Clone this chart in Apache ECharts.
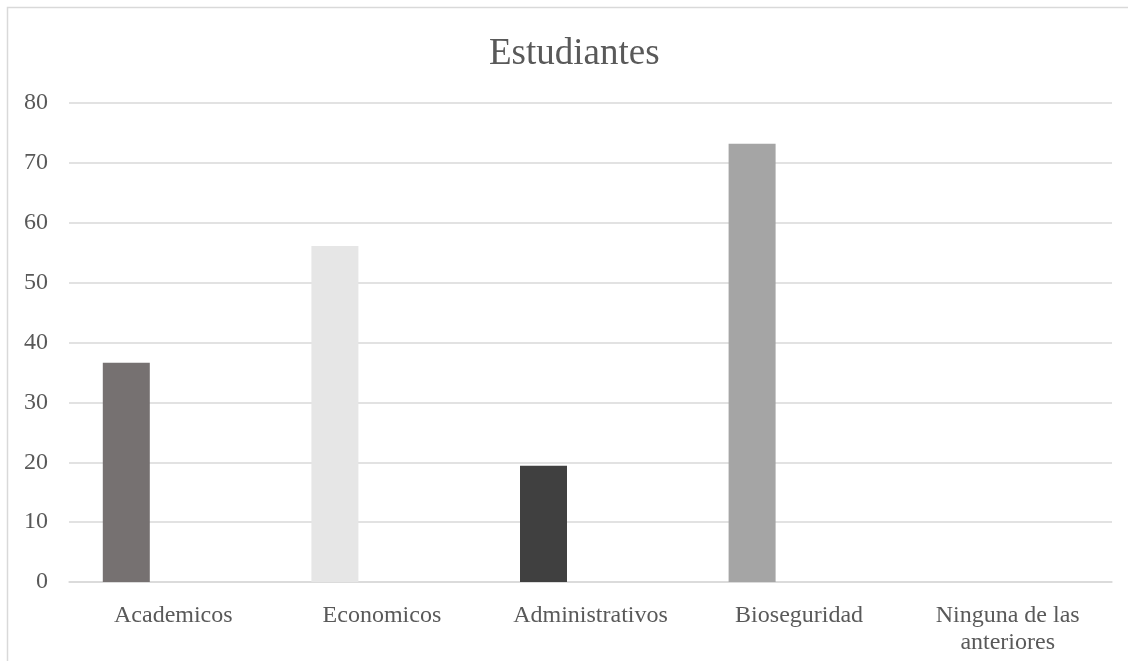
<!DOCTYPE html>
<html>
<head>
<meta charset="utf-8">
<script src="https://cdn.jsdelivr.net/npm/echarts@6/dist/echarts.min.js"></script>
<style>
html,body{margin:0;padding:0;background:#fff;}
#chart{width:1128px;height:661px;}
</style>
</head>
<body>
<div id="chart"></div>
<script>
const categories = ['Academicos', 'Economicos', 'Administrativos', 'Bioseguridad', 'Ninguna de las\nanteriores'];
const values = [36.6, 56.1, 19.4, 73.2, 0];
const barColors = ['#767171', '#e6e6e6', '#404040', '#a5a5a5', '#d0cece'];
const emptySeriesB = [null, null, null, null, null];
const emptySeriesC = [null, null, null, null, null];
const yTicks = { min: 0, max: 80, interval: 10 };

const chart = echarts.init(document.getElementById('chart'), null, { renderer: 'canvas' });
const font = '"Liberation Serif", "Times New Roman", serif';
chart.setOption({
  animation: false,
  backgroundColor: '#ffffff',
  graphic: [{
    type: 'rect',
    shape: { x: 7.5, y: 7.5, width: 1200, height: 800 },
    style: { fill: 'none', stroke: '#d9d9d9', lineWidth: 1.5 },
    silent: true, z: -1
  }],
  title: {
    text: 'Estudiantes',
    left: 484,
    top: 31,
    textStyle: { fontFamily: font, fontSize: 37, fontWeight: 'normal', color: '#595959' }
  },
  grid: { left: 69, right: 16, top: 103, bottom: 79, containLabel: false },
  xAxis: {
    type: 'category',
    data: categories,
    axisLine: { show: true, lineStyle: { color: '#d9d9d9', width: 1.5 } },
    axisTick: { show: false },
    axisLabel: { fontFamily: font, fontSize: 24, color: '#595959', margin: 20, lineHeight: 27, interval: 0 }
  },
  yAxis: {
    type: 'value',
    min: yTicks.min, max: yTicks.max, interval: yTicks.interval,
    axisLine: { show: false },
    axisTick: { show: false },
    splitLine: { lineStyle: { color: '#d9d9d9', width: 1.5 } },
    axisLabel: { fontFamily: font, fontSize: 24, color: '#595959', margin: 21 }
  },
  series: [
    {
      type: 'bar',
      name: 'Estudiantes',
      data: values.map((v, i) => ({ value: v, itemStyle: { color: barColors[i] } })),
      barWidth: 47,
      barGap: '0%'
    },
    { type: 'bar', name: 'B', data: emptySeriesB, barWidth: 47, barGap: '0%' },
    { type: 'bar', name: 'C', data: emptySeriesC, barWidth: 47, barGap: '0%' }
  ]
});
</script>
</body>
</html>
